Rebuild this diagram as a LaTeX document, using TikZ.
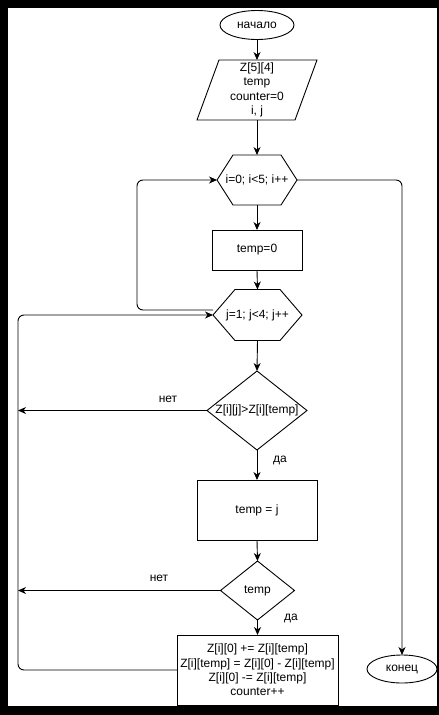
\documentclass[tikz,border=0pt]{standalone}
\usepackage{fontspec}
\setmainfont{Liberation Sans}
\usetikzlibrary{shapes.geometric,arrows.meta}
\begin{document}
\begin{tikzpicture}[x=1pt,y=-1pt,
  every node/.style={font=\fontsize{12}{14.4}\selectfont, inner sep=0pt, outer sep=0pt},
  shapeline/.style={draw=black, line width=0.9pt},
  term/.style={ellipse, shapeline},
  proc/.style={rectangle, shapeline},
  dia/.style={diamond, shapeline},
  hidden/.style={rectangle, draw=none},
  edge/.style={draw=black, line width=0.9pt, -{Stealth[length=8pt,width=7pt,inset=2.5pt]}},
  loopedge/.style={edge, rounded corners=6pt},
  lbl/.style={text=black}]
\useasboundingbox (0,0) rectangle (439,715);
\fill[black] (0,0) rectangle (439,715);
\fill[white] (8,8) rectangle (437,706);

% nodes
\node[term, minimum width=74pt, minimum height=29pt] (start) at (257,25) {начало};
\node[hidden, minimum width=120pt, minimum height=60pt, align=center] (par) at (257,90) {Z[5][4]\\temp\\counter=0\\i, j};
\draw[shapeline] ([xshift=22pt]par.north west) -- (par.north east) -- ([xshift=-22pt]par.south east) -- (par.south west) -- cycle;

\node[hidden, minimum width=80pt, minimum height=50pt] (h1) at (257,180) {i=0; i<5; i++};
\draw[shapeline] (h1.west) -- ([xshift=16pt]h1.north west) -- ([xshift=-16pt]h1.north east) -- (h1.east) -- ([xshift=-16pt]h1.south east) -- ([xshift=16pt]h1.south west) -- cycle;

\node[proc, minimum width=90pt, minimum height=40pt] (t0) at (257,250) {temp=0};

\node[hidden, minimum width=89pt, minimum height=51pt] (h2) at (257.5,315) {j=1; j<4; j++};
\draw[shapeline] (h2.west) -- ([xshift=22pt]h2.north west) -- ([xshift=-22pt]h2.north east) -- (h2.east) -- ([xshift=-22pt]h2.south east) -- ([xshift=22pt]h2.south west) -- cycle;

\node[dia, aspect=1.27, minimum width=100pt, minimum height=79pt] (d1) at (257,410.5) {Z[i][j]>Z[i][temp]};
\node[proc, minimum width=120pt, minimum height=60pt] (tj) at (257,510) {temp = j};
\node[dia, aspect=1.25, minimum width=74pt, minimum height=59pt] (d2) at (257.5,590.5) {temp};
\node[proc, minimum width=161pt, minimum height=70pt, align=center] (fin) at (257.5,670) {Z[i][0] += Z[i][temp]\\Z[i][temp] = Z[i][0] - Z[i][temp]\\Z[i][0] -= Z[i][temp]\\counter++};
\node[term, minimum width=70pt, minimum height=28pt] (end) at (402,669) {конец};

% labels
\node[lbl] (no1) at (168,399) {нет};
\node[lbl] (yes1) at (280,460) {да};
\node[lbl] (no2) at (159,578) {нет};
\node[lbl] (yes2) at (291,618) {да};

% helper coordinates
\coordinate (L) at (18,0);
\coordinate (M) at (137,0);

% connectors
\draw[edge] (start) -- (par);
\draw[edge] (par.south) -- (h1.north);
\draw[edge] (h1.south) -- (t0.north);
\draw[edge] (t0.south) -- (h2.north);
\draw[edge] (h2.south) -- (d1.north);
\draw[edge] (d1.south) -- (tj.north);
\draw[edge] (tj.south) -- (d2.north);
\draw[edge] (d2.south) -- (fin.north);
\draw[edge] (d1.west) -- (d1.west -| L);
\draw[edge] (d2.west) -- (d2.west -| L);
\draw[loopedge] ([yshift=5pt]h2.west) -| (M |- h1.west) -- (h1.west);
\draw[loopedge] (fin.west) -| (L |- h2.west) -- (h2.west);
\draw[loopedge] (h1.east) -| (end.north);
\end{tikzpicture}
\end{document}
